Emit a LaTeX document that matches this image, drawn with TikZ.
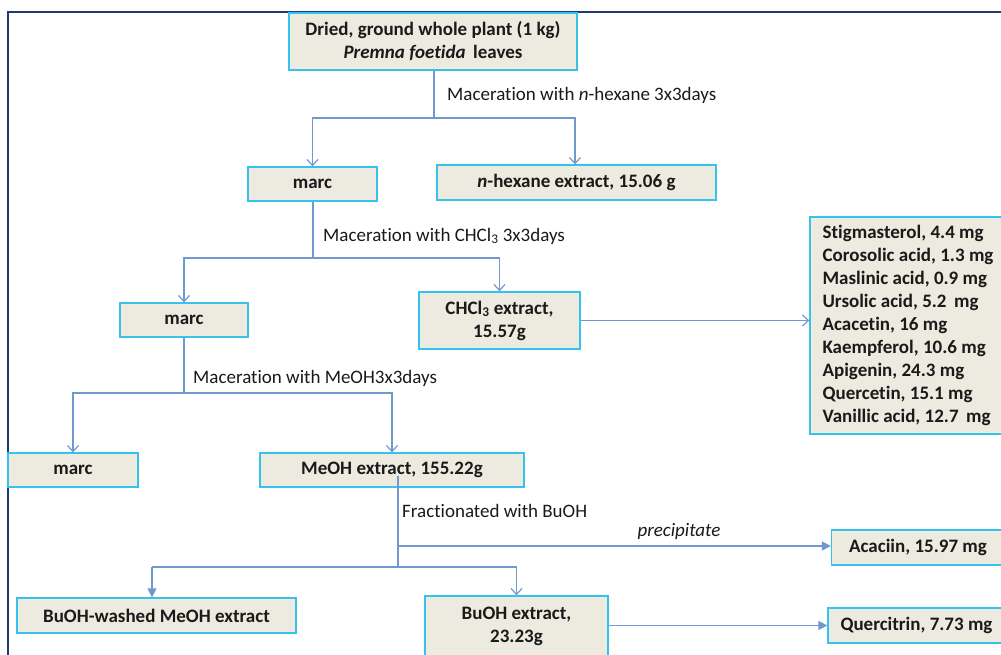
\documentclass[tikz,border=0pt]{standalone}
\usepackage{fontspec}
\setmainfont{Carlito}[Ligatures=NoCommon]
\usetikzlibrary{arrows.meta}
\definecolor{boxfill}{HTML}{EDEADF}
\definecolor{boxborder}{HTML}{35C3EE}
\definecolor{linecol}{HTML}{7199D0}
\definecolor{framecol}{HTML}{1F3A6E}
\definecolor{txtcol}{HTML}{1A1A1A}
\tikzset{
  box/.style={draw=boxborder, fill=boxfill, line width=1.3pt, inner sep=0pt, align=center,
    text=txtcol, font=\fontsize{19}{23}\selectfont\bfseries},
  conn/.style={draw=linecol, line width=1.4pt},
  openarr/.style={conn, -{Straight Barb[length=6pt,width=11pt,line width=1.2pt]}},
  fillarr/.style={conn, -{Triangle[length=9pt,width=9pt]}},
  lbl/.style={anchor=west, inner sep=0pt, text=txtcol, font=\fontsize{19}{22}\selectfont}
}
\begin{document}
\begin{tikzpicture}[x=1pt,y=-1pt]
\useasboundingbox (0,0) rectangle (1001,655);
\fill[white] (0,0) rectangle (1001,655);
% frame
\draw[framecol, line width=2pt] (8,660) -- (8,12) -- (1010,12);

% boxes
\node[box, minimum width=288pt, minimum height=57pt] (top) at (433,41.5)
  {Dried, ground whole plant (1 kg)\\\textit{Premna foetida}\, leaves};
\node[box, minimum width=129pt, minimum height=34pt] (marc1) at (312.5,184) {marc};
\node[box, minimum width=279pt, minimum height=35pt] (hex) at (576.5,182.5) {\textit{n}-hexane extract, 15.06 g};
\node[box, minimum width=128pt, minimum height=34pt] (marc2) at (184,320) {marc};
\node[box, minimum width=161pt, minimum height=57pt] (chcl) at (499.5,320.5) {CHCl\textsubscript{3} extract,\\15.57g};
\node[box, minimum width=196pt, minimum height=217pt, align=left] (comp) at (908,325.5)
  {Stigmasterol, 4.4 mg\\Corosolic acid, 1.3 mg\\Maslinic acid, 0.9 mg\\Ursolic acid, 5.2\, mg\\Acacetin, 16 mg\\Kaempferol, 10.6 mg\\Apigenin, 24.3 mg\\Quercetin, 15.1 mg\\Vanillic acid, 12.7\, mg};
\node[box, minimum width=130pt, minimum height=34pt] (marc3) at (73,470) {marc};
\node[box, minimum width=264pt, minimum height=34pt] (meoh) at (392,470) {MeOH extract, 155.22g};
\node[box, minimum width=173pt, minimum height=35pt] (acac) at (918,547.5) {Acaciin, 15.97 mg};
\node[box, minimum width=279pt, minimum height=35pt] (buw) at (156.5,615.5) {BuOH-washed MeOH extract};
\node[box, minimum width=183pt, minimum height=60pt] (bue) at (516.5,626) {BuOH extract,\\23.23g};
\node[box, minimum width=177pt, minimum height=35pt] (querc) at (916.5,625.5) {Quercitrin, 7.73 mg};

% junction coordinates
\coordinate (j1) at (434,118);
\coordinate (j2) at (313,258);
\coordinate (j3) at (184,393);
\coordinate (m0) at (398,476);
\coordinate (j4) at (398,546);
\coordinate (j5) at (398,567);
\coordinate (bw) at (152,567);

% connectors
\draw[conn] (top.south -| j1) -- (j1);
\draw[openarr] (j1) -| (marc1.north);
\draw[openarr] (j1) -| ([xshift=-1.5pt]hex.north);
\draw[conn] (marc1.south -| j2) -- (j2);
\draw[openarr] (j2) -| (marc2.north);
\draw[openarr] (j2) -| (chcl.north);
\draw[openarr] (chcl.east) -- (chcl.east -| comp.west);
\draw[conn] (marc2.south) -- (j3);
\draw[openarr] (j3) -| (marc3.north);
\draw[openarr] (j3) -| (meoh.north);
\draw[conn] (m0) -- (j5);
\draw[fillarr] (j4) -- (j4 -| acac.west);
\draw[conn] (j5) -- (bw);
\draw[fillarr] (bw) -- (bw |- buw.north);
\draw[openarr] (j5) -| (bue.north);
\draw[fillarr] (bue.east |- querc.west) -- (querc.west);

% labels
\node[lbl] (l1) at (447,95) {Maceration with \textit{n}-hexane 3x3days};
\node[lbl] (l2) at (323,236) {Maceration with CHCl\textsubscript{3} 3x3days};
\node[lbl] (l3) at (193,378) {Maceration with MeOH3x3days};
\node[lbl] (l4) at (402,511) {Fractionated with BuOH};
\node[lbl, anchor=center] (l5) at (679,531) {\textit{precipitate}};
\end{tikzpicture}
\end{document}
